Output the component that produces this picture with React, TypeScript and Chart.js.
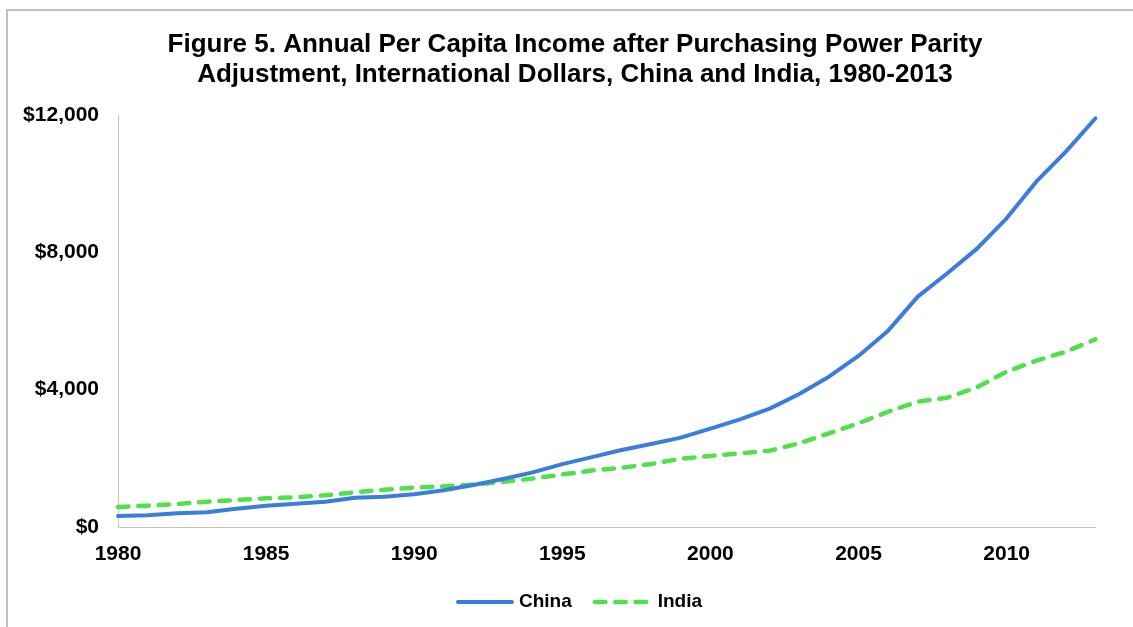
import React, { useEffect, useRef } from "react";
import { Chart, registerables } from "chart.js";

Chart.register(...registerables);

const titleLines = [
  "Figure 5. Annual Per Capita Income after Purchasing Power Parity",
  "Adjustment, International Dollars, China and India, 1980-2013",
];

const years = [
  1980, 1981, 1982, 1983, 1984, 1985, 1986, 1987, 1988, 1989,
  1990, 1991, 1992, 1993, 1994, 1995, 1996, 1997, 1998, 1999,
  2000, 2001, 2002, 2003, 2004, 2005, 2006, 2007, 2008, 2009,
  2010, 2011, 2012, 2013,
];

const china = [
  320, 340, 400, 428, 534, 621, 679, 737, 854, 883,
  952, 1070, 1225, 1400, 1590, 1830, 2035, 2243, 2418, 2602,
  2864, 3136, 3447, 3874, 4378, 4981, 5718, 6709, 7390, 8107,
  8992, 10059, 10933, 11905,
];

const india = [
  583, 621, 670, 737, 786, 836, 865, 923, 1011, 1087,
  1145, 1185, 1232, 1315, 1412, 1530, 1645, 1728, 1835, 1990,
  2068, 2147, 2223, 2438, 2729, 3020, 3359, 3650, 3767, 4069,
  4524, 4844, 5106, 5468,
];

const seriesNames = ["China", "India"];
const xTickYears = [1980, 1985, 1990, 1995, 2000, 2005, 2010];
const yTicks = [0, 4000, 8000, 12000];

const FONT = "'Liberation Sans', Arial, sans-serif";

const framePlugin = {
  id: "frame",
  beforeDraw(chart: any) {
    const ctx = chart.ctx;
    ctx.save();
    ctx.fillStyle = "#bfbfbf";
    ctx.fillRect(6, 9, chart.width - 6, 2);
    ctx.fillRect(6, 9, 2, chart.height - 9);
    ctx.restore();
  },
};

const titleLegendPlugin = {
  id: "titleLegend",
  afterDraw(chart: any) {
    const ctx = chart.ctx;
    ctx.save();
    // title
    ctx.fillStyle = "#000";
    ctx.textAlign = "center";
    ctx.textBaseline = "middle";
    ctx.font = `bold 26px ${FONT}`;
    titleLines.forEach((line, i) => ctx.fillText(line, 575, 45 + i * 30));

    // legend
    ctx.font = `bold 19px ${FONT}`;
    ctx.textAlign = "left";
    const lineW = 58;
    const gapText = [5, 7];
    const itemGap = 21;
    const ds = chart.data.datasets;
    const widths = ds.map((d: any) => ctx.measureText(d.label).width);
    let total = 0;
    ds.forEach((_d: any, i: number) => {
      total += lineW + gapText[i] + widths[i];
      if (i < ds.length - 1) total += itemGap;
    });
    let x = 579 - total / 2;
    const y = 602;
    ds.forEach((d: any, i: number) => {
      ctx.save();
      ctx.strokeStyle = d.borderColor;
      ctx.lineWidth = d.borderWidth;
      ctx.lineCap = d.borderCapStyle || "butt";
      const cap = ctx.lineCap === "round" ? d.borderWidth / 2 : 0;
      ctx.setLineDash(d.borderDash || []);
      ctx.beginPath();
      ctx.moveTo(x + cap, y);
      ctx.lineTo(x + lineW - cap, y);
      ctx.stroke();
      ctx.restore();
      x += lineW + gapText[i];
      ctx.fillStyle = "#000";
      ctx.fillText(d.label, x, y);
      x += widths[i] + itemGap;
    });
    ctx.restore();
  },
};

export default function App() {
  const ref = useRef<HTMLCanvasElement | null>(null);

  useEffect(() => {
    if (!ref.current) return;
    const chart = new Chart(ref.current, {
      type: "line",
      data: {
        labels: years,
        datasets: [
          {
            label: seriesNames[0],
            data: china,
            borderColor: "#3b7ddd",
            backgroundColor: "#3b7ddd",
            borderWidth: 4,
            pointRadius: 0,
            tension: 0,
            borderCapStyle: "round",
            borderJoinStyle: "round",
          },
          {
            label: seriesNames[1],
            data: india,
            borderColor: "#52e04a",
            backgroundColor: "#52e04a",
            borderWidth: 4.5,
            borderDash: [10.5, 9.8],
            pointRadius: 0,
            tension: 0,
            borderCapStyle: "round",
            borderJoinStyle: "round",
          },
        ],
      },
      options: {
        animation: false,
        responsive: false,
        layout: { padding: { left: 0, right: 37.5, top: 115, bottom: 56 } },
        plugins: {
          title: { display: false },
          legend: { display: false },
          tooltip: { enabled: false },
        },
        scales: {
          x: {
            type: "category",
            grid: { display: false, drawTicks: false },
            border: { display: true, color: "#c4c4c4", width: 1 },
            afterFit: (s: any) => {
              s.height = 44;
            },
            ticks: {
              autoSkip: false,
              maxRotation: 0,
              padding: 15,
              color: "#000",
              font: { family: FONT, size: 21, weight: "bold" },
              callback: (_v: any, idx: number) =>
                xTickYears.includes(years[idx]) ? String(years[idx]) : "",
            },
          },
          y: {
            min: yTicks[0],
            max: yTicks[yTicks.length - 1],
            grid: { display: false, drawTicks: false },
            border: { display: true, color: "#c4c4c4", width: 1 },
            afterFit: (s: any) => {
              s.width = 118;
            },
            afterBuildTicks: (s: any) => {
              s.ticks = yTicks.map((v) => ({ value: v }));
            },
            ticks: {
              padding: 19,
              color: "#000",
              font: { family: FONT, size: 21, weight: "bold" },
              callback: (v: any) => "$" + Number(v).toLocaleString("en-US"),
            },
          },
        },
      },
      plugins: [framePlugin, titleLegendPlugin],
    });
    return () => chart.destroy();
  }, []);

  return (
    <div style={{ position: "absolute", left: 0, top: 0, width: 1133, height: 627, background: "#fff" }}>
      <canvas ref={ref} width={1133} height={627} />
    </div>
  );
}
